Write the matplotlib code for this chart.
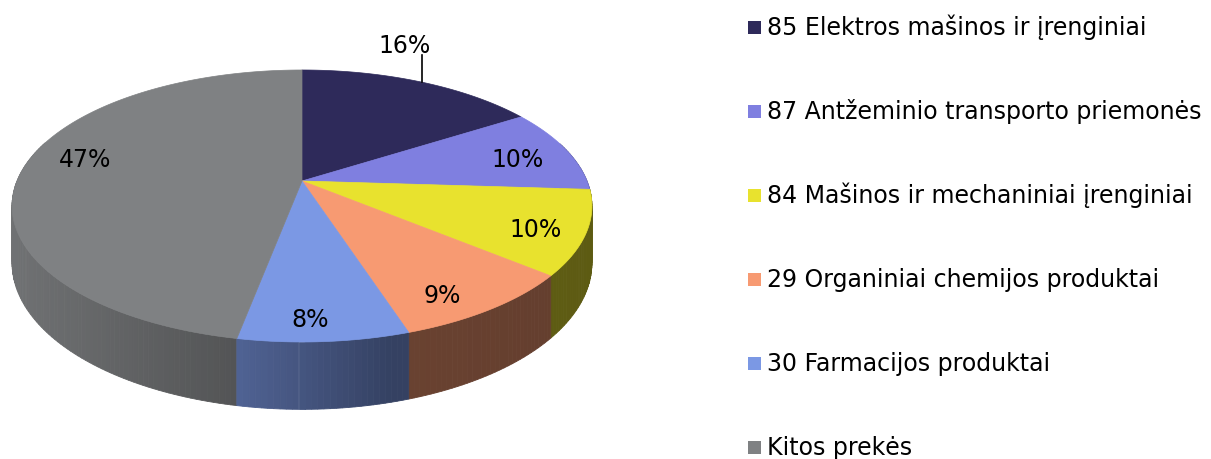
import numpy as np
import matplotlib
matplotlib.use('Agg')
import matplotlib.pyplot as plt
from matplotlib.patches import Polygon, Rectangle
import matplotlib.colors as mcolors

# data
labels = ["85 Elektros mašinos ir įrenginiai",
          "87 Antžeminio transporto priemonės",
          "84 Mašinos ir mechaniniai įrenginiai",
          "29 Organiniai chemijos produktai",
          "30 Farmacijos produktai",
          "Kitos prekės"]
values = [16, 10, 10, 9, 8, 47]
colors = ["#2e2a5a", "#7f7fe0", "#e8e22e", "#f79a72", "#7b98e4", "#7f8183"]

# label nudges (px) to mimic the original placement
nudge_x = [0, 3, 9, -6, -9, 7]
nudge_y = [0, 4, 8, 16, 16, -11]

# 3d pie geometry (pixels)
cx, cy = 302, 181
a, b, k = 285, 131.4, 0.1837
depth = 55
fs = 17


def proj(theta, r=1.0, drop=0.0):
    u = r * np.cos(theta)
    v = r * np.sin(theta)
    d = 1 + k * v
    return cx + a * u / d, cy - b * v / d + drop / d


fig = plt.figure(figsize=(12.11, 4.59), dpi=100)
ax = fig.add_axes([0, 0, 1, 1])
ax.set_xlim(0, 1211)
ax.set_ylim(459, 0)
ax.axis('off')

total = float(sum(values))
starts = []
ang = np.pi / 2
for v in values:
    span = v / total * 2 * np.pi
    starts.append((ang, ang - span))
    ang -= span

# side walls, shaded along x
shade_x = [12, 230, 390, 600]
shade_f = [0.88, 0.66, 0.43, 0.40]
segs = []
for i, (t0, t1) in enumerate(starts):
    n = max(int(abs(t1 - t0) / np.radians(1.0)), 2)
    ts = np.linspace(t0, t1, n + 1)
    for j in range(n):
        ta, tb = ts[j], ts[j + 1]
        tm = 0.5 * (ta + tb)
        if np.sin(tm) > 0.3:
            continue
        xa, ya = proj(ta)
        xb, yb = proj(tb)
        xa2, ya2 = proj(ta, drop=depth)
        xb2, yb2 = proj(tb, drop=depth)
        f = np.interp(0.5 * (xa + xb), shade_x, shade_f)
        c = np.array(mcolors.to_rgb(colors[i])) * f
        segs.append((np.sin(tm), [(xa, ya), (xb, yb), (xb2, yb2), (xa2, ya2)], c))
segs.sort(key=lambda s: -s[0])
for _, pts, c in segs:
    ax.add_patch(Polygon(pts, closed=True, facecolor=c, edgecolor=c, lw=0.6))

# top face
for i, (t0, t1) in enumerate(starts):
    ts = np.linspace(t0, t1, 120)
    xs, ys = proj(ts)
    pts = [(cx, cy)] + list(zip(xs, ys))
    ax.add_patch(Polygon(pts, closed=True, facecolor=colors[i], edgecolor=colors[i], lw=0.5))

# percentage labels
for i, (t0, t1) in enumerate(starts):
    tm = 0.5 * (t0 + t1)
    txt = "%d%%" % round(values[i] / total * 100)
    if i == 0:
        ex, ey = proj(tm)
        ax.plot([ex + 2, ex + 2], [ey, ey - 27], color='black', lw=1.2)
        ax.text(ex - 16, ey - 29, txt, ha='center', va='baseline', fontsize=fs)
    else:
        lx, ly = proj(tm, r=0.8)
        ax.text(lx + nudge_x[i], ly + nudge_y[i], txt, ha='center', va='center', fontsize=fs)

# legend
for i, lab in enumerate(labels):
    yc = 27 + 84 * i
    ax.add_patch(Rectangle((748, yc - 6.5), 13, 13, facecolor=colors[i], edgecolor='none'))
    ax.text(767, yc + 8, lab, ha='left', va='baseline', fontsize=fs)

fig.savefig('out.png', dpi=100)
